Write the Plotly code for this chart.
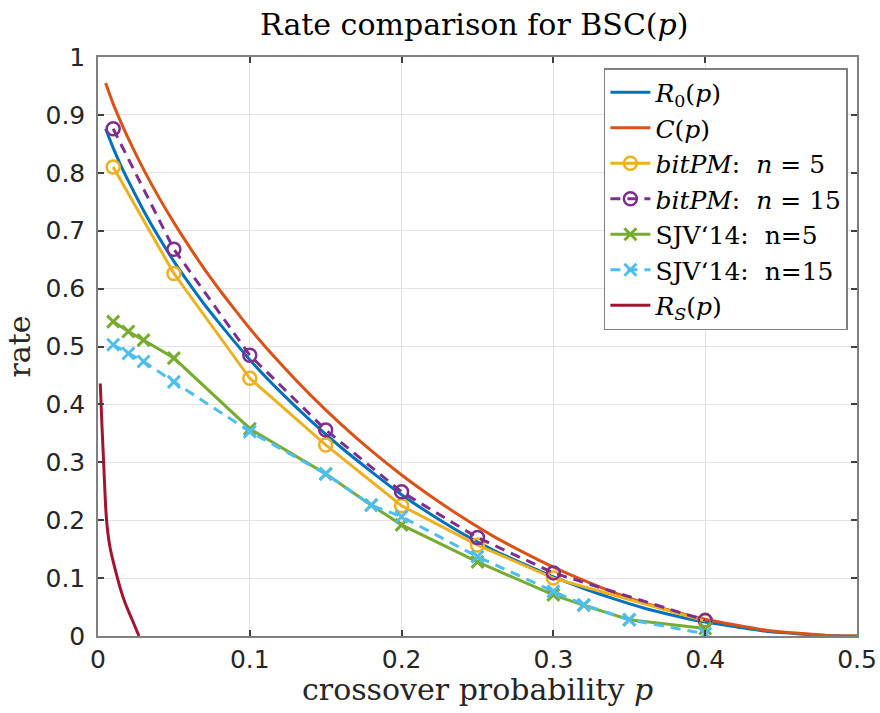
import plotly.graph_objects as go

# ---- data ----
p_curve = [0.005, 0.01, 0.015, 0.02, 0.03, 0.04, 0.05, 0.06, 0.07, 0.08, 0.09, 0.1,
           0.12, 0.14, 0.16, 0.18, 0.2, 0.22, 0.24, 0.26, 0.28, 0.3, 0.32, 0.34,
           0.36, 0.38, 0.4, 0.42, 0.44, 0.46, 0.48, 0.5]
r0_vals = [0.876, 0.843, 0.813, 0.786, 0.735, 0.689, 0.647, 0.609, 0.573, 0.540,
           0.508, 0.477, 0.422, 0.372, 0.326, 0.284, 0.244, 0.209, 0.177, 0.149,
           0.125, 0.102, 0.082, 0.064, 0.048, 0.035, 0.024, 0.016, 0.008, 0.004,
           0.001, 0.0]
c_vals = [0.955, 0.919, 0.888, 0.859, 0.806, 0.758, 0.714, 0.673, 0.634, 0.598,
          0.564, 0.531, 0.471, 0.416, 0.366, 0.320, 0.278, 0.240, 0.205, 0.173,
          0.145, 0.119, 0.096, 0.075, 0.057, 0.042, 0.029, 0.019, 0.010, 0.005,
          0.001, 0.0]

p_bitpm = [0.01, 0.05, 0.1, 0.15, 0.2, 0.25, 0.3, 0.4]
bitpm5 = [0.810, 0.626, 0.445, 0.330, 0.225, 0.157, 0.100, 0.026]
bitpm15 = [0.876, 0.668, 0.485, 0.356, 0.249, 0.170, 0.109, 0.027]

p_sjv = [0.01, 0.02, 0.03, 0.05, 0.1, 0.15, 0.18, 0.2, 0.25, 0.3, 0.32, 0.35, 0.4]
sjv5 = [0.543, 0.526, 0.511, 0.480, 0.358, 0.280, 0.226, 0.192, 0.128, 0.071,
        0.053, 0.028, 0.013]
sjv15 = [0.503, 0.488, 0.474, 0.439, 0.353, 0.280, 0.226, 0.206, 0.137, 0.077,
         0.054, 0.028, 0.004]

p_rs = [0.0015, 0.0025, 0.0037, 0.005, 0.006, 0.008, 0.0114, 0.0145, 0.018, 0.0225,
        0.027]
rs_vals = [0.436, 0.370, 0.300, 0.225, 0.190, 0.152, 0.114, 0.084, 0.056, 0.028,
           0.0]

x_ticks = [0, 0.1, 0.2, 0.3, 0.4, 0.5]
y_ticks = [0, 0.1, 0.2, 0.3, 0.4, 0.5, 0.6, 0.7, 0.8, 0.9, 1]

names = ["<i>R</i><sub>0</sub>(<i>p</i>)",
         "<i>C</i>(<i>p</i>)",
         "<i>bitPM</i>:  <i>n</i> = 5",
         "<i>bitPM</i>:  <i>n</i> = 15",
         "SJV‘14:  n=5",
         "SJV‘14:  n=15",
         "<i>R</i><sub><i>S</i></sub>(<i>p</i>)"]

SERIF = "DejaVu Serif"
SANS = "DejaVu Sans"

fig = go.Figure()
fig.add_trace(go.Scatter(x=p_curve, y=r0_vals, mode="lines", name=names[0],
                         line=dict(color="#0072BD", width=3, shape="spline", smoothing=0.6)))
fig.add_trace(go.Scatter(x=p_curve, y=c_vals, mode="lines", name=names[1],
                         line=dict(color="#D95319", width=3, shape="spline", smoothing=0.6)))
fig.add_trace(go.Scatter(x=p_bitpm, y=bitpm5, mode="lines+markers", name=names[2],
                         line=dict(color="#EDB120", width=3),
                         marker=dict(symbol="circle-open", size=13,
                                     line=dict(width=2.5, color="#EDB120"))))
fig.add_trace(go.Scatter(x=p_bitpm, y=bitpm15, mode="lines+markers", name=names[3],
                         line=dict(color="#7E2F8E", width=3, dash="10px,7px"),
                         marker=dict(symbol="circle-open", size=13,
                                     line=dict(width=2.5, color="#7E2F8E"))))
fig.add_trace(go.Scatter(x=p_sjv, y=sjv5, mode="lines+markers", name=names[4],
                         line=dict(color="#77AC30", width=3),
                         marker=dict(symbol="x-thin-open", size=12,
                                     line=dict(width=3, color="#77AC30"))))
fig.add_trace(go.Scatter(x=p_sjv, y=sjv15, mode="lines+markers", name=names[5],
                         line=dict(color="#4DBEEE", width=3, dash="10px,7px"),
                         marker=dict(symbol="x-thin-open", size=12,
                                     line=dict(width=3, color="#4DBEEE"))))
fig.add_trace(go.Scatter(x=p_rs, y=rs_vals, mode="lines", name=names[6],
                         line=dict(color="#A2142F", width=3, shape="spline", smoothing=0.5)))

axis_common = dict(
    automargin=False,
    showgrid=True, gridcolor="#e3e3e3", gridwidth=1,
    showline=True, linecolor="#808080", linewidth=1.5, mirror="ticks",
    ticks="inside", ticklen=6, tickcolor="#404040", tickwidth=1.5,
    zeroline=False,
    tickfont=dict(family=SANS, size=25, color="#262626"),
)

fig.update_layout(
    width=880, height=713,
    margin=dict(l=98, r=23, t=57, b=77),
    paper_bgcolor="white", plot_bgcolor="white",
    title=dict(text="Rate comparison for BSC(<i>p</i>)", x=0.539, xanchor="center",
               y=0.965, yanchor="middle",
               font=dict(family=SERIF, size=30, color="black")),
    xaxis=dict(range=[0, 0.5], tickvals=x_ticks, ticktext=[str(v) for v in x_ticks],
               **axis_common),
    yaxis=dict(range=[0, 1], tickvals=y_ticks, ticktext=[str(v) for v in y_ticks],
               ticklabelstandoff=6,
               title=dict(text="rate", standoff=6,
                          font=dict(family=SERIF, size=30, color="#262626")),
               **axis_common),
    legend=dict(x=0.988, xanchor="right", y=0.981, yanchor="top",
                bgcolor="white", bordercolor="#808080", borderwidth=1.5,
                font=dict(family=SERIF, size=25, color="black"),
                itemwidth=40, tracegroupgap=0),
    showlegend=True,
    annotations=[dict(text="crossover probability <i>p</i>", xref="paper", yref="paper",
                      x=0.5, y=-0.093, xanchor="center", yanchor="middle",
                      showarrow=False,
                      font=dict(family=SERIF, size=30, color="#262626"))],
)

fig.write_html("out.html", config={"displayModeBar": False},
               post_script="document.body.style.margin='0';document.body.style.overflow='hidden';")
